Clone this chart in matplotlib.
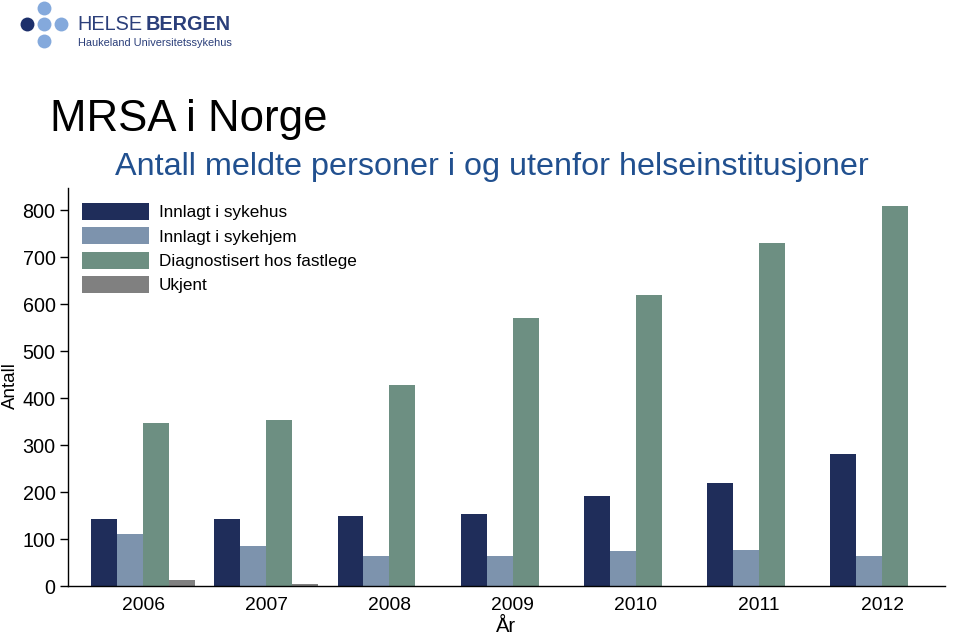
import matplotlib
matplotlib.use('Agg')
import matplotlib.pyplot as plt
import numpy as np

plt.rcParams['font.family'] = ['Liberation Sans', 'DejaVu Sans']

years = ['2006', '2007', '2008', '2009', '2010', '2011', '2012']
sykehus = [142, 143, 150, 153, 192, 219, 281]
sykehjem = [111, 86, 63, 63, 74, 77, 63]
fastlege = [346, 353, 427, 571, 619, 730, 808]
ukjent = [12, 4, 0, 1, 0, 0, 0]

series = [
    ('Innlagt i sykehus', sykehus, '#1f2d5a'),
    ('Innlagt i sykehjem', sykehjem, '#7d93ad'),
    ('Diagnostisert hos fastlege', fastlege, '#6d8f82'),
    ('Ukjent', ukjent, '#808080'),
]

fig = plt.figure(figsize=(9.6, 6.37), dpi=100)

# logo area, pixel coordinates
lg = fig.add_axes([0, 0, 1, 1], zorder=-1)
lg.set_xlim(0, 960)
lg.set_ylim(637, 0)
lg.axis('off')
lg.scatter([27], [24], s=100, color='#1c2f6b', lw=0)
lg.scatter([44, 61, 44, 44], [24, 24, 8, 41], s=100, color='#84a9dc', lw=0)
lg.text(77, 25, 'HELSE', fontsize=14.3, color='#2b3f7a', va='center', ha='left')
lg.text(146, 25, 'BERGEN', fontsize=14.3, color='#2b3f7a', va='center', ha='left', fontweight='bold')
lg.text(78, 43, 'Haukeland Universitetssykehus', fontsize=7.9, color='#2b3f7a', va='center', ha='left')

fig.text(50 / 960, 1 - 119 / 637, 'MRSA i Norge', fontsize=31.5, color='black', va='center', ha='left')
fig.text(115 / 960, 1 - 167 / 637, 'Antall meldte personer i og utenfor helseinstitusjoner',
         fontsize=23.3, color='#21508f', va='center', ha='left')

ax = fig.add_axes([68 / 960, 1 - 586 / 637, 877 / 960, 398 / 637])
x = np.arange(len(years))
w = 0.211
for i, (name, vals, col) in enumerate(series):
    ax.bar(x + (i - 1.5) * w, vals, width=w, color=col, label=name, zorder=2)

ax.set_xlim(-0.61, 6.51)
ax.set_ylim(0, 847)
ax.set_yticks(range(0, 801, 100))
ax.set_xticks(x)
ax.set_xticklabels(years)
ax.tick_params(axis='x', length=0, labelsize=13.9, pad=8)
ax.tick_params(axis='y', length=6, labelsize=14.2, width=1, pad=3)
for s in ['top', 'right']:
    ax.spines[s].set_visible(False)
ax.spines['left'].set_linewidth(1)
ax.spines['bottom'].set_linewidth(1)
ax.set_xlabel('År', fontsize=14.5, labelpad=2)
ax.set_ylabel('Antall', fontsize=13.5, va='center')
ax.yaxis.set_label_coords(-58 / 877, (586 - 386) / 398)

ax.legend(loc='upper left', bbox_to_anchor=(0.016, 0.962), frameon=False, fontsize=12.3,
          handlelength=3.9, handleheight=1.15, labelspacing=0.41, handletextpad=0.6,
          borderpad=0, borderaxespad=0)

fig.savefig('out.png', dpi=100)
